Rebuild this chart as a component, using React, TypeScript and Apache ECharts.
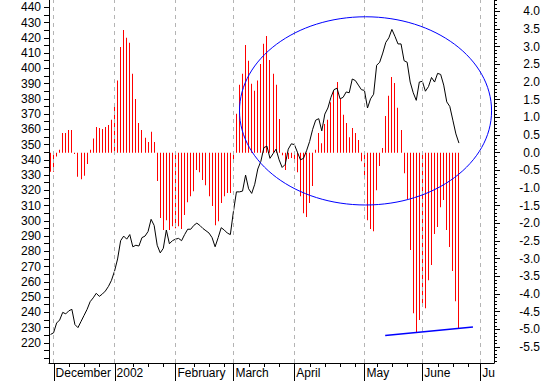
import React, { useEffect, useRef } from 'react';
import * as echarts from 'echarts';

// Price (left axis), one value per trading day
const priceValues = [
  225.5, 226.6, 233, 235, 240, 239, 241, 242, 232, 230,
  234, 238, 242, 247, 249.5, 252.5, 250.5, 252, 254, 257,
  261, 267, 275, 287, 290, 288, 291, 283, 284, 283.5,
  289, 290, 293, 301, 297, 284, 279, 282, 294, 285,
  287, 288, 288.5, 287, 291, 294.5, 294.5, 297, 298.5, 297,
  295, 293.5, 292, 289, 283, 289, 295.5, 294, 292, 291,
  306, 319, 319, 319.5, 330, 321, 318, 324, 334, 339,
  348, 349, 341, 344, 347, 340, 335, 337, 347, 350.5,
  350, 345, 340, 341, 346, 352, 360, 366, 367, 359,
  370, 374, 381, 386, 387, 380, 381, 384.5, 384, 393,
  392, 389, 386, 385.5, 374, 380, 383, 402, 404, 410,
  417, 420, 425.5, 421, 416, 416, 405, 404, 391, 384,
  379, 391, 391.5, 385, 388, 394, 391, 396.7, 396, 389,
  378, 375, 366, 357, 351,
];

// Oscillator (right axis), one value per trading day
const oscValues = [
  -0.54, -0.54, -0.11, 0.08, 0.56, 0.56, 0.64, 0.64, -0.04, -0.68,
  -0.75, -0.65, -0.32, 0.08, 0.4, 0.73, 0.7, 0.67, 0.73, 0.78,
  0.93, 1.35, 2.04, 2.99, 3.47, 3.25, 3.11, 2.23, 1.52, 0.84,
  0.64, 0.42, 0.3, 0.59, 0.3, -0.8, -1.85, -2.19, -1.91, -2.19,
  -2.08, -2.14, -2.08, -2.16, -1.76, -1.4, -1.23, -1.09, -0.49, -0.55,
  -0.77, -0.92, -1.23, -1.51, -2.05, -1.94, -1.42, -1.23, -1.14, -1.14,
  -0.24, 1.1, 1.92, 2.23, 3.05, 2.6, 1.95, 1.75, 2.04, 2.51,
  3.08, 3.3, 2.62, 2.23, 1.92, 0.95, -0.07, -0.49, -0.18, -0.15,
  -0.18, -0.55, -1.23, -1.71, -1.82, -1.42, -0.94, 0.08, 0.56, 0.27,
  0.81, 0.93, 1.43, 1.75, 2.0, 1.52, 1.07, 0.84, 0.44, 0.7,
  0.56, 0.36, -0.24, -0.75, -1.91, -2.16, -2.22, -1.06, -0.38, 0.13,
  1.04, 1.61, 2.14, 1.97, 1.27, 0.64, -0.58, -1.31, -2.75, -4.54,
  -5.07, -4.73, -4.34, -4.4, -3.61, -3.18, -2.3, -2.1, -1.54, -1.34,
  -2.19, -2.67, -3.35, -4.2, -4.97,
];

const slotCount = 146;
const monthLabels = ['December', '2002', 'February', 'March', 'April', 'May', 'June', 'Ju'];
const monthStartIdx = [1, 21, 41, 60, 80, 103, 122, 141];
const weekTickIdx = [6, 11, 16, 27, 32, 37, 47, 52, 57, 65, 70, 75, 85, 90, 95, 100, 107, 112, 117, 127, 132, 137];

const leftLabelValues = [220, 230, 240, 250, 260, 270, 280, 290, 300, 310, 320, 330, 340, 350, 360, 370, 380, 390, 400, 410, 420, 430, 440];
const leftTickValues = [210, 215, 220, 225, 230, 235, 240, 245, 250, 255, 260, 265, 270, 275, 280, 285, 290, 295, 300, 305, 310, 315, 320, 325, 330, 335, 340, 345, 350, 355, 360, 365, 370, 375, 380, 385, 390, 395, 400, 405, 410, 415, 420, 425, 430, 435, 440];
const rightLabelValues = [-5.5, -5, -4.5, -4, -3.5, -3, -2.5, -2, -1.5, -1, -0.5, 0, 0.5, 1, 1.5, 2, 2.5, 3, 3.5, 4];
const rightMinorTickValues = [
  -5.9, -5.8, -5.7, -5.6, -5.5, -5.4, -5.3, -5.2, -5.1, -5, -4.9, -4.8, -4.7, -4.6, -4.5, -4.4, -4.3, -4.2, -4.1, -4,
  -3.9, -3.8, -3.7, -3.6, -3.5, -3.4, -3.3, -3.2, -3.1, -3, -2.9, -2.8, -2.7, -2.6, -2.5, -2.4, -2.3, -2.2, -2.1, -2,
  -1.9, -1.8, -1.7, -1.6, -1.5, -1.4, -1.3, -1.2, -1.1, -1, -0.9, -0.8, -0.7, -0.6, -0.5, -0.4, -0.3, -0.2, -0.1, 0,
  0.1, 0.2, 0.3, 0.4, 0.5, 0.6, 0.7, 0.8, 0.9, 1, 1.1, 1.2, 1.3, 1.4, 1.5, 1.6, 1.7, 1.8, 1.9, 2,
  2.1, 2.2, 2.3, 2.4, 2.5, 2.6, 2.7, 2.8, 2.9, 3, 3.1, 3.2, 3.3, 3.4, 3.5, 3.6, 3.7, 3.8, 3.9, 4, 4.1, 4.2, 4.3,
];

// Annotations in data space: ellipse (category index / left-axis value), trend line (index / right-axis value)
const ellipseBox = { leftIdx: 62, rightIdx: 144.7, topVal: 433.8, bottomVal: 310.4 };
const trendLine = [[109.8, -5.17], [138.6, -4.93]];

const LEFT_MIN = 206.8, LEFT_MAX = 444.8;
const RIGHT_MIN = -5.95, RIGHT_MAX = 4.32;
const FONT = 'Liberation Sans, Arial, sans-serif';

// x-axis tick drawn below the axis line, positioned by the category scale
const tickSeries = (idx: number[], len: number) => ({
  type: 'custom', xAxisIndex: 0, yAxisIndex: 0, clip: false, silent: true, z: 5,
  data: idx.map((i) => [i, LEFT_MIN]),
  encode: { x: 0, y: 1 },
  renderItem: (_p: any, api: any) => {
    const pt = api.coord([api.value(0), api.value(1)]);
    const x = Math.round(pt[0]) + 0.5;
    return { type: 'line', shape: { x1: x, y1: pt[1], x2: x, y2: pt[1] + len }, style: { stroke: '#000', lineWidth: 1 } };
  },
});

export default function App() {
  const ref = useRef<HTMLDivElement>(null);
  useEffect(() => {
    if (!ref.current) return;
    const chart = echarts.init(ref.current, null, { renderer: 'svg' });
    const cats = Array.from({ length: slotCount }, (_, i) => String(i));
    const monthSet = new Set(monthStartIdx);
    const option: any = {
      animation: false,
      backgroundColor: '#ffffff',
      textStyle: { fontFamily: FONT },
      grid: { left: 49, right: 48, top: 0, bottom: 18, containLabel: false },
      xAxis: [
        {
          type: 'category', data: cats, boundaryGap: true, position: 'bottom',
          axisLine: { show: true, onZero: false, lineStyle: { color: '#000', width: 1 } },
          axisTick: { show: false },
          axisLabel: {
            show: true, interval: (i: number) => monthSet.has(i),
            formatter: (v: string) => {
              const k = monthStartIdx.indexOf(Number(v));
              return k >= 0 ? monthLabels[k] : '';
            },
            align: 'left', verticalAlign: 'top', margin: 4, padding: [0, 0, 0, 2],
            color: '#000', fontSize: 12, fontFamily: FONT,
          },
          splitLine: { show: false },
        },
      ],
      yAxis: [
        {
          type: 'value', position: 'left', min: LEFT_MIN, max: LEFT_MAX,
          axisLine: { show: true, lineStyle: { color: '#000' } },
          axisTick: { show: true, length: 5, lineStyle: { color: '#000' }, customValues: leftTickValues },
          axisLabel: { show: true, customValues: leftLabelValues, margin: 8, color: '#000', fontSize: 12, fontFamily: FONT },
          splitLine: { show: false },
        },
        {
          type: 'value', position: 'right', min: RIGHT_MIN, max: RIGHT_MAX,
          axisLine: { show: true, lineStyle: { color: '#000' } },
          axisTick: { show: true, length: 6, lineStyle: { color: '#000' }, customValues: rightLabelValues },
          axisLabel: {
            show: true, customValues: rightLabelValues, margin: 46, align: 'right',
            formatter: (v: number) => v.toFixed(1), color: '#000', fontSize: 12, fontFamily: FONT,
          },
          splitLine: { show: false },
        },
        {
          type: 'value', position: 'right', min: RIGHT_MIN, max: RIGHT_MAX,
          axisLine: { show: false },
          axisTick: { show: true, length: 3, lineStyle: { color: '#000' }, customValues: rightMinorTickValues },
          axisLabel: { show: false },
          splitLine: { show: false },
        },
      ],
      series: [
        {
          type: 'custom', name: 'osc', xAxisIndex: 0, yAxisIndex: 1,
          data: oscValues.map((v, i) => [i, v]),
          encode: { x: 0, y: 1 }, silent: true,
          renderItem: (_params: any, api: any) => {
            const i = api.value(0);
            const v = api.value(1);
            const base = api.coord([i, 0]);
            const top = api.coord([i, v]);
            const y0 = Math.min(base[1], top[1]);
            const h = Math.max(1, Math.abs(top[1] - base[1]));
            return {
              type: 'rect',
              shape: { x: Math.floor(base[0]), y: y0, width: 1, height: h },
              style: { fill: '#ff0000' },
            };
          },
        },
        {
          type: 'line', name: 'price', xAxisIndex: 0, yAxisIndex: 0, data: priceValues,
          showSymbol: false, symbol: 'none', lineStyle: { color: '#000', width: 1 }, silent: true, z: 3,
          markLine: {
            silent: true, symbol: ['none', 'none'], label: { show: false },
            lineStyle: { color: '#b4b4b4', type: [4, 4], width: 1 },
            data: monthStartIdx.map((i) => ({ xAxis: i })),
          },
        },
        tickSeries(weekTickIdx, 4),
        tickSeries(monthStartIdx, 19),
      ],
    };
    chart.setOption(option);

    const toPx = (idx: number, val: number, yAxisIndex: number) => {
      const a = chart.convertToPixel({ xAxisIndex: 0, yAxisIndex }, [0, val]) as number[];
      const b = chart.convertToPixel({ xAxisIndex: 0, yAxisIndex }, [100, val]) as number[];
      return [a[0] + (b[0] - a[0]) * idx / 100, a[1]];
    };
    const tl = toPx(ellipseBox.leftIdx, ellipseBox.topVal, 0);
    const br = toPx(ellipseBox.rightIdx, ellipseBox.bottomVal, 0);
    const p1 = toPx(trendLine[0][0], trendLine[0][1], 1);
    const p2 = toPx(trendLine[1][0], trendLine[1][1], 1);
    chart.setOption({
      graphic: [
        {
          type: 'ellipse', silent: true, z: 100,
          shape: { cx: (tl[0] + br[0]) / 2, cy: (tl[1] + br[1]) / 2, rx: (br[0] - tl[0]) / 2, ry: (br[1] - tl[1]) / 2 },
          style: { fill: 'none', stroke: '#0000ff', lineWidth: 1 },
        },
        {
          type: 'line', silent: true, z: 100,
          shape: { x1: p1[0], y1: p1[1], x2: p2[0], y2: p2[1] },
          style: { stroke: '#0000ff', lineWidth: 1.5 },
        },
      ],
    });
    return () => chart.dispose();
  }, []);
  return <div ref={ref} style={{ position: 'fixed', left: 0, top: 0, width: 543, height: 381 }} />;
}
